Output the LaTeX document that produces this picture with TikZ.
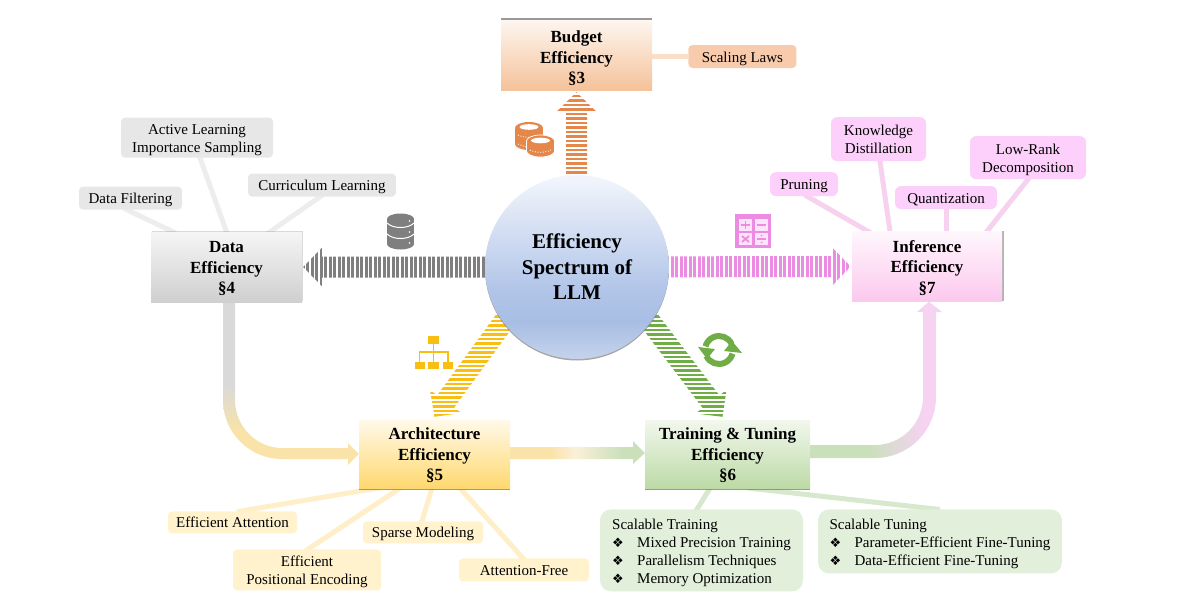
\documentclass[tikz,border=0pt]{standalone}
\usepackage{fontspec}
\setmainfont{Liberation Serif}
\newfontfamily\dingfont{DejaVu Sans}
\usetikzlibrary{positioning,calc,shadows,backgrounds}

\definecolor{orangeline}{HTML}{E5874A}
\definecolor{orangetag}{HTML}{F8CBAD}
\definecolor{orangelink}{HTML}{FBDDC8}
\definecolor{orangebox}{HTML}{F5C29A}
\definecolor{grayline}{HTML}{7F7F7F}
\definecolor{graytag}{HTML}{E7E7E7}
\definecolor{graylink}{HTML}{EDEDED}
\definecolor{graybox}{HTML}{CFCFCF}
\definecolor{pinkline}{HTML}{EC8BE2}
\definecolor{pinktag}{HTML}{FDD0FB}
\definecolor{pinklink}{HTML}{F6D2EE}
\definecolor{pinkbox}{HTML}{FCC8EE}
\definecolor{yellowline}{HTML}{F9BE12}
\definecolor{yellowtag}{HTML}{FFF2CC}
\definecolor{yellowlink}{HTML}{FFEFC8}
\definecolor{yellowbox}{HTML}{FFD86F}
\definecolor{greenline}{HTML}{70AD47}
\definecolor{greentag}{HTML}{E2EFDA}
\definecolor{greenlink}{HTML}{D8E8CE}
\definecolor{greenbox}{HTML}{BDDAA6}
\definecolor{hubtop}{HTML}{F3F6FC}
\definecolor{hubmid}{HTML}{B0C4E8}
\definecolor{hublow}{HTML}{A9BEE4}
\definecolor{hubbot}{HTML}{C5D3EC}
\definecolor{flowgray}{HTML}{D9D9D9}
\definecolor{flowyellow}{HTML}{FAE3A8}
\definecolor{flowcream}{HTML}{FAF0D8}
\definecolor{flowgreen}{HTML}{C9E0BB}
\definecolor{flowpink}{HTML}{F5D3F1}

\pgfdeclareverticalshading{hubshade}{100bp}{color(0bp)=(hubbot); color(25bp)=(hubbot); color(35bp)=(hublow); color(43bp)=(hubmid); color(75bp)=(hubtop); color(100bp)=(hubtop)}
\pgfdeclareverticalshading{datashade}{100bp}{color(0bp)=(flowyellow); color(35bp)=(flowyellow); color(50bp)=(flowgray); color(100bp)=(flowgray)}
\pgfdeclarehorizontalshading{archshade}{100bp}{color(0bp)=(flowyellow); color(40bp)=(flowyellow); color(49bp)=(flowcream); color(67bp)=(flowgreen); color(100bp)=(flowgreen)}
\pgfdeclarehorizontalshading{trainshade}{100bp}{color(0bp)=(flowgreen); color(47bp)=(flowgreen); color(68bp)=(flowpink); color(100bp)=(flowpink)}

\newcommand{\arrowclip}[2]{
    \coordinate (arrowbase) at ($(#2)!19pt!(#1)$);
    \clip ($(#1)!10.5pt!90:(#2)$)
        -- ($(arrowbase)!10.5pt!90:(#2)$)
        -- ($(arrowbase)!19.5pt!90:(#2)$)
        -- (#2)
        -- ($(arrowbase)!19.5pt!-90:(#2)$)
        -- ($(arrowbase)!10.5pt!-90:(#2)$)
        -- ($(#1)!10.5pt!-90:(#2)$) -- cycle;
}
\newcommand{\hstripes}[3]{
    \begin{scope}
    \arrowclip{#1}{#2}
    \foreach \i in {0,...,133} \fill[#3] (0,{\i*4.5}) rectangle (1200,{\i*4.5+2.8});
    \end{scope}
}
\newcommand{\vstripes}[3]{
    \begin{scope}
    \arrowclip{#1}{#2}
    \foreach \i in {0,...,266} \fill[#3] ({\i*4.5},0) rectangle ({\i*4.5+3},600);
    \end{scope}
}
\newcommand{\bulletitem}{\makebox[25pt][l]{\dingfont\fontsize{13pt}{18pt}\selectfont ❖}}

\begin{document}
\begin{tikzpicture}[
        x=1pt, y=-1pt,
        mainbox/.style = {shape=rectangle, inner sep=0pt, align=center,
                          minimum width=151pt, minimum height=70pt,
                          text height=54pt, text depth=1pt,
                          font=\fontsize{17pt}{20.5pt}\selectfont\bfseries},
        tagbox/.style = {shape=rectangle, rounded corners=4pt, inner sep=0pt, align=center,
                         text height=12pt, text depth=1pt,
                         font=\fontsize{15pt}{18pt}\selectfont},
        twolines/.style = {text height=30pt},
        listbox/.style = {tagbox, rounded corners=11pt, fill=greentag, align=left},
        graytagbox/.style = {tagbox, fill=graytag},
        pinktagbox/.style = {tagbox, rounded corners=6pt, fill=pinktag},
        yellowtagbox/.style = {tagbox, fill=yellowtag},
        datalink/.style = {line width=5pt, color=graylink, shorten <=-3pt, shorten >=-3pt},
        pinklinkline/.style = {line width=5pt, color=pinklink, shorten <=-3pt, shorten >=-3pt},
        yellowlinkline/.style = {line width=5pt, color=yellowlink, shorten <=-3pt, shorten >=-3pt},
        greenlinkline/.style = {line width=5pt, color=greenlink, shorten <=-3pt, shorten >=-3pt}]
    \useasboundingbox (0,0) rectangle (1200,600);

    \node[shape=circle, inner sep=0pt, minimum size=184pt, align=center, shading=hubshade,
          drop shadow={shadow xshift=0pt, shadow yshift=-1.5pt, fill=gray, opacity=.7},
          font=\fontsize{21pt}{25.5pt}\selectfont\bfseries] (hub) at (577,267)
          {Efficiency\\Spectrum of\\LLM};

    \node[mainbox, text height=58pt, top color=orangebox!15, bottom color=orangebox,
          drop shadow={shadow xshift=0pt, shadow yshift=2pt, fill=gray, opacity=.8}] (budget) at (576.5,55)
          {Budget\\Efficiency\\§3};
    \node[mainbox, top color=graybox!20, bottom color=graybox,
          drop shadow={shadow xshift=1pt, shadow yshift=1pt, fill=gray, opacity=.3}] (data) at (226.5,267)
          {Data\\Efficiency\\§4};
    \node[mainbox, minimum width=150pt, top color=pinkbox!15, bottom color=pinkbox,
          drop shadow={shadow xshift=2pt, shadow yshift=1pt, fill=gray, opacity=.6}] (inference) at (927,266.5)
          {Inference\\Efficiency\\§7};
    \node[mainbox, top color=yellowbox!15, bottom color=yellowbox,
          minimum height=68pt,
          drop shadow={shadow xshift=0pt, shadow yshift=-2pt, fill=gray, opacity=.8}] (arch) at (434.5,454)
          {Architecture\\Efficiency\\§5};
    \node[mainbox, minimum width=165pt, minimum height=68pt, top color=greenbox!20, bottom color=greenbox,
          drop shadow={shadow xshift=0pt, shadow yshift=-2pt, fill=gray, opacity=.8}] (train) at (727.5,454)
          {Training \& Tuning\\Efficiency\\§6};

    \node[right=36pt of budget, yshift=-1.5pt, tagbox, fill=orangetag, minimum width=108pt, minimum height=23pt] (scaling) {Scaling Laws};

    \node[above=22pt of data, xshift=-96pt, graytagbox, minimum width=103pt, minimum height=23pt] (filtering) {Data Filtering};
    \node[above=74pt of data, xshift=-29.5pt, graytagbox, twolines, minimum width=152pt, minimum height=40pt] (active) {Active Learning\\Importance Sampling};
    \node[above=35pt of data, xshift=95.5pt, graytagbox, minimum width=148pt, minimum height=23pt] (curriculum) {Curriculum Learning};

    \node[above=35pt of inference, xshift=-123pt, pinktagbox, minimum width=68pt, minimum height=24pt] (pruning) {Pruning};
    \node[above=70pt of inference, xshift=-48.5pt, pinktagbox, twolines, minimum width=95pt, minimum height=44pt] (knowledge) {Knowledge\\Distillation};
    \node[above=22pt of inference, xshift=19pt, pinktagbox, minimum width=102pt, minimum height=23pt] (quantization) {Quantization};
    \node[above=52pt of inference, xshift=101pt, pinktagbox, twolines, minimum width=116pt, minimum height=43pt] (lowrank) {Low-Rank\\Decomposition};

    \node[below=23pt of arch, xshift=-202pt, yellowtagbox, minimum width=129pt, minimum height=22pt] (attention) {Efficient Attention};
    \node[below=61pt of arch, xshift=-127.5pt, yellowtagbox, twolines, minimum width=148pt, minimum height=41pt] (positional) {Efficient\\Positional Encoding};
    \node[below=33pt of arch, xshift=-11.5pt, yellowtagbox, minimum width=120pt, minimum height=22pt] (sparse) {Sparse Modeling};
    \node[below=70pt of arch, xshift=89.5pt, yellowtagbox, minimum width=130pt, minimum height=23pt] (free) {Attention-Free};

    \node[below=21pt of train, xshift=-26pt, listbox, text height=67pt, minimum width=203pt, minimum height=82pt] (trainlist)
        {Scalable Training\\\bulletitem Mixed Precision Training\\\bulletitem Parallelism Techniques\\\bulletitem Memory Optimization};
    \node[below=21pt of train, xshift=212.5pt, listbox, text height=49pt, minimum width=244pt, minimum height=64pt] (tunelist)
        {Scalable Tuning\\\bulletitem Parameter-Efficient Fine-Tuning\\\bulletitem Data-Efficient Fine-Tuning};

    \coordinate (budgettail) at (budget.south |- hub.center);
    \coordinate (budgettip) at ([yshift=-2pt]budget.south);
    \coordinate (datatip) at ([xshift=1pt]data.east);
    \coordinate (inferencetip) at ([xshift=-1pt]inference.west);
    \coordinate (archtail) at (505,320);
    \coordinate (archtip) at ([yshift=3pt]arch.north);
    \coordinate (traintail) at (649,320);
    \coordinate (traintip) at ([xshift=-5pt,yshift=3pt]train.north);

    \begin{scope}[on background layer]
    \hstripes{budgettail}{budgettip}{orangeline}
    \vstripes{hub.center}{datatip}{grayline}
    \vstripes{hub.center}{inferencetip}{pinkline}
    \hstripes{archtail}{archtip}{yellowline}
    \hstripes{traintail}{traintip}{greenline}

    \draw [line width=5pt, color=orangelink] (scaling.west) -- (scaling.west -| budget.east);

    \draw [datalink] ([xshift=-3.5pt]filtering.south) -- ([xshift=-53.5pt]data.north);
    \draw [datalink] ([xshift=3pt]active.south) -- (data.north);
    \draw [datalink] ([xshift=-2pt]curriculum.south) -- ([xshift=43.5pt]data.north);

    \draw [pinklinkline] ([xshift=3pt]pruning.south) -- ([xshift=-59pt]inference.north);
    \draw [pinklinkline] ([xshift=1.5pt]knowledge.south) -- ([xshift=-37pt]inference.north);
    \draw [pinklinkline] (quantization.south) -- (quantization.south |- inference.north);
    \draw [pinklinkline] (lowrank.south) -- ([xshift=60pt]inference.north);

    \draw [yellowlinkline] ([xshift=7.5pt]attention.north) -- ([xshift=-57.5pt]arch.south);
    \draw [yellowlinkline] ([xshift=1pt]positional.north) -- ([xshift=-34.5pt]arch.south);
    \draw [yellowlinkline] ([xshift=-1pt]sparse.north) -- ([xshift=-2.5pt]arch.south);
    \draw [yellowlinkline] ([xshift=-1pt]free.north) -- ([xshift=25.5pt]arch.south);

    \draw [greenlinkline] ([xshift=-4.5pt]trainlist.north) -- ([xshift=-17.5pt]train.south);
    \draw [greenlinkline] ([xshift=-3pt]tunelist.north) -- ([xshift=22.5pt]train.south);

    \shade [shading=datashade]
        ([xshift=-3.5pt]data.south)
        -- (223,400) .. controls (223,432.6) and (249.4,459) .. (282,459)
        -- (348,459) -- (348,465) -- (arch.west) -- (348,443) -- (348,448)
        -- (282,448) .. controls (256,448) and (235,426) .. (235,400)
        -- ([xshift=8.5pt]data.south) -- cycle;
    \shade [shading=archshade]
        ([yshift=7pt]arch.east)
        -- (633,447) -- (633,441) -- ([yshift=1pt]train.west) -- (633,464) -- (633,459)
        -- ([yshift=-5pt]arch.east) -- cycle;
    \shade [shading=trainshade]
        ([yshift=9pt]train.east)
        -- (875,445) .. controls (901.5,445) and (923,423.5) .. (923,397)
        -- (923,312) -- (917,312) -- ([xshift=2pt]inference.south) -- (942,312) -- (936,312)
        -- (936,397) .. controls (936,430.7) and (908.7,458) .. (875,458)
        -- ([yshift=-4pt]train.east) -- cycle;
    \end{scope}

    \fill[orangeline] (529,128) ellipse [x radius=14pt, y radius=6pt];
    \fill[orangeline] (515,128) rectangle (543,144);
    \fill[orangeline] (529,144) ellipse [x radius=14pt, y radius=6pt];
    \fill[white] (529,127) ellipse [x radius=9.5pt, y radius=2.8pt];
    \draw[white, line width=.8pt, dash pattern=on 1pt off 1.6pt] (518,135) .. controls (523,138) and (535,138) .. (540,135);
    \draw[white, line width=.8pt, dash pattern=on 1pt off 1.6pt] (518,144) -- (526,147);
    \fill[orangeline, draw=white, line width=.7pt] (526.5,141) -- (526.5,151) arc[start angle=180, end angle=360, x radius=14pt, y radius=6pt] -- (554.5,141) arc[start angle=0, end angle=180, x radius=14pt, y radius=6pt] -- cycle;
    \fill[white] (540.5,140.5) ellipse [x radius=9.5pt, y radius=2.8pt];
    \draw[white, line width=.8pt, dash pattern=on 1pt off 1.6pt] (530,150) .. controls (535,153) and (546,153) .. (551,150);

    \fill[grayline] (400.5,219) ellipse [x radius=13.5pt, y radius=5.5pt];
    \fill[grayline] (387,219) rectangle (414,244);
    \fill[grayline] (400.5,244) ellipse [x radius=13.5pt, y radius=5.5pt];
    \draw[white, line width=1pt] (387,223) .. controls (393,229) and (408,229) .. (414,223);
    \draw[white, line width=1pt] (387,234) .. controls (393,240) and (408,240) .. (414,234);
    \foreach \dy in {221,232,243}
        \fill[white] (409.5,\dy) circle [radius=.8pt];

    \fill[pinkline] (735,214) rectangle (771,248);
    \foreach \cx/\cy in {739/219, 755/219, 739/233, 755/233}
        \fill[pinktag!60] (\cx,\cy) rectangle ({\cx+12.5},{\cy+12});
    \draw[pinkline, line width=1.8pt] (741,225) -- (750,225) (745.5,221) -- (745.5,229);
    \draw[pinkline, line width=1.8pt] (757,225) -- (766,225);
    \draw[pinkline, line width=1.8pt] (742,236) -- (749,242) (749,236) -- (742,242);
    \draw[pinkline, line width=1.8pt] (757,239) -- (766,239);
    \fill[pinkline] (761.5,235.5) circle [radius=1pt] (761.5,242.5) circle [radius=1pt];

    \draw[yellowline, line width=1.2pt] (433.5,344) -- (433.5,362) (419.5,362) -- (419.5,352) -- (448,352) -- (448,362);
    \fill[yellowline] (428,336) rectangle (439,344);
    \fill[yellowline] (415,362) rectangle (425,369);
    \fill[yellowline] (428,362) rectangle (439,369);
    \fill[yellowline] (443,362) rectangle (453,369);

    \draw[greenline, line width=6pt] ([shift={(25:14pt)}]719,350) arc[start angle=25, end angle=165, radius=14pt];
    \fill[greenline] (698,347) -- (715,349) -- (707,359) -- cycle;
    \draw[greenline, line width=6pt] ([shift={(205:14pt)}]719,350) arc[start angle=205, end angle=345, radius=14pt];
    \fill[greenline] (742,353) -- (724,351) -- (732,341) -- cycle;
\end{tikzpicture}
\end{document}
